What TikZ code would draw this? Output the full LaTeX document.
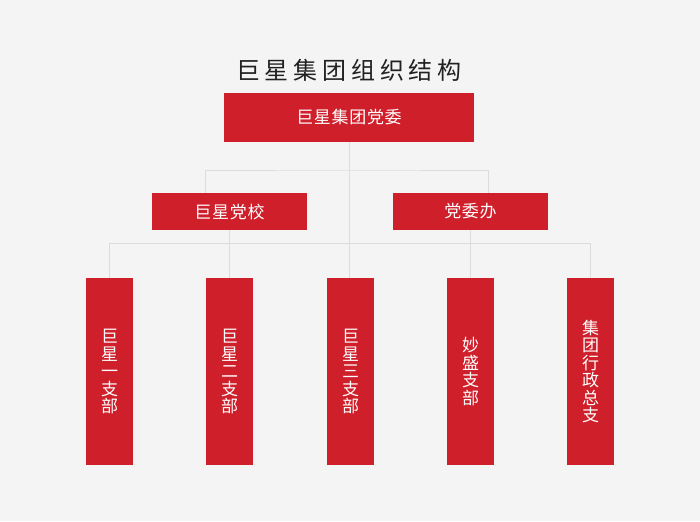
\documentclass[tikz,border=0pt]{standalone}
\usepackage{fontspec}
\setmainfont{Noto Sans CJK SC}
\usepackage{tikz}
\usetikzlibrary{positioning,calc}
\definecolor{partyred}{HTML}{CE1F2B}
\definecolor{pagegray}{HTML}{F4F4F4}
\definecolor{linkgray}{HTML}{DCDCDC}
\tikzset{%
  org box/.style={%
    fill=partyred,
    text=white,
    inner sep=0pt,
    font=\fontsize{17}{17.5}\selectfont\addfontfeature{LetterSpace=4}
  },
  branch box/.style={%
    org box,
    minimum width=47,
    minimum height=187,
    align=center
  },
  org link/.style={%
    draw=linkgray,
    line width=1pt
  }
}

\begin{document}
\begin{tikzpicture}[x=1pt,y=-1pt]
  \fill [pagegray] (0,0) rectangle (700,521);
  \useasboundingbox (0,0) rectangle (700,521);
  \node (title) at (349, 70) [text=black!87,font=\fontsize{24}{26}\selectfont\addfontfeature{LetterSpace=20}] {巨星集团组织结构};
  \node (committee) at (349, 117.5) [org box,minimum width=250,minimum height=49] {巨星集团党委};
  \node (school) at (229.5, 211.5) [org box,minimum width=155,minimum height=37] {巨星党校};
  \node (office) at (470.5, 211.5) [org box,minimum width=155,minimum height=37] {党委办};
  \node (b1) at (109.5, 371.5) [branch box] {巨\\星\\一\\支\\部};
  \node (b2) at (229.5, 371.5) [branch box] {巨\\星\\二\\支\\部};
  \node (b3) at (350.5, 371.5) [branch box] {巨\\星\\三\\支\\部};
  \node (b4) at (470.5, 371.5) [branch box] {妙\\盛\\支\\部};
  \node (b5) at (590.5, 371.5) [branch box] {集\\团\\行\\政\\总\\支};
  % junctions of the connectors
  \coordinate (top bar) at (349, 171);
  \coordinate (low bar) at (349, 243.5);
  \coordinate (school top) at (205.5, 193);
  \coordinate (office top) at (488.5, 193);
  \draw [org link] (committee.south) -- (top bar);
  \draw [org link] (school top) |- (top bar) -| (office top);
  \draw [org link] (top bar) -- (b3.north -| top bar);
  \draw [org link] (b1.north) |- (low bar) -| (b5.north);
  \draw [org link] (school.south) -- (b2.north -| school.south);
  \draw [org link] (office.south) -- (b4.north -| office.south);
\end{tikzpicture}
\end{document}
